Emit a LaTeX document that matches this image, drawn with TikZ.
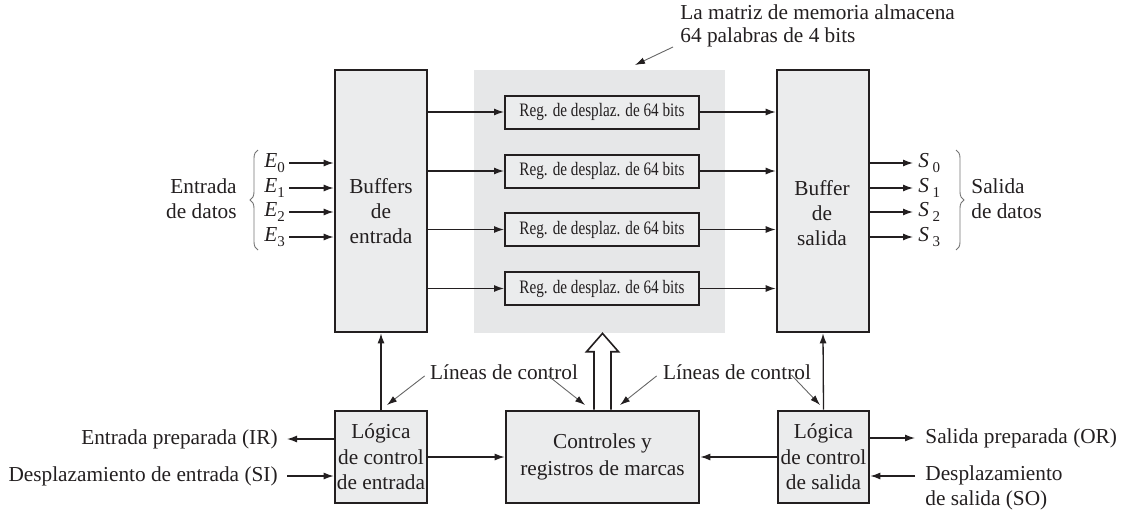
\documentclass[tikz,border=0pt]{standalone}
\usepackage{fontspec}
\setmainfont{Liberation Serif}
\newfontfamily\regfont[FakeStretch=0.8]{Liberation Serif}
\usetikzlibrary{arrows.meta,decorations.pathreplacing,calc}
\definecolor{boxfill}{HTML}{EBECED}
\definecolor{memfill}{HTML}{E6E7E8}
\definecolor{ink}{HTML}{231F20}
\newcommand\lowidx[1]{\raisebox{-0.45ex}{\fontsize{7.5}{8}\selectfont #1}}
\begin{document}
\begin{tikzpicture}[x=0.5pt,y=-0.5pt,
  every node/.style={font=\fontsize{10.65}{12.5}\selectfont, text=ink},
  box/.style={draw=ink, line width=1.3pt, fill=boxfill, inner sep=0pt, align=center},
  reg/.style={draw=ink, line width=1pt, fill=boxfill, minimum width=97pt, minimum height=16.5pt, inner sep=0pt,
     font=\regfont\fontsize{9.5}{10}\selectfont},
  lbl/.style={inner sep=0pt},
  arr/.style={draw=ink, line width=0.65pt, -{Latex[length=5pt,width=3.5pt]}},
  ptr/.style={draw=black!60, line width=0.45pt, -{Latex[length=5pt,width=3.3pt,color=ink]}},
  brc/.style={draw=black!55, line width=0.45pt, decorate, decoration={brace, amplitude=4pt}},
  hollow/.style={draw=ink, line width=0.8pt, fill=white}
]
\useasboundingbox (0,0) rectangle (1124,515);

% memory array region
\node[fill=memfill, minimum width=125.5pt, minimum height=131.5pt, inner sep=0pt] (mem) at (599.5,201.5) {};

% main boxes
\node[box, minimum width=46pt, minimum height=131pt] (bin) at (381,201) {};
\node[lbl, align=center] (bintxt) at (381,211) {Buffers\\de\\entrada};
\node[box, minimum width=46pt, minimum height=131pt] (bout) at (823,201) {};
\node[lbl, align=center] (bouttxt) at (822,213) {Buffer\\de\\salida};

% shift registers
\node[reg] (r1) at (602,112) {Reg. de desplaz. de 64 bits};
\node[reg] (r2) at (602,171) {Reg. de desplaz. de 64 bits};
\node[reg] (r3) at (602,229.5) {Reg. de desplaz. de 64 bits};
\node[reg] (r4) at (602,288.5) {Reg. de desplaz. de 64 bits};

\foreach \r in {r1,r2,r3,r4}{
  \draw[arr] (bin.east |- \r.west) -- (\r.west);
  \draw[arr] (\r.east) -- (bout.west |- \r.east);
}

% bottom boxes
\node[box, minimum width=46pt, minimum height=46pt, font=\fontsize{10.65}{12.7}\selectfont] (lin) at (381,457) {L\'ogica\\de control\\de entrada};
\node[box, minimum width=96.5pt, minimum height=46pt, font=\fontsize{10.65}{13.5}\selectfont] (ctrl) at (602.5,457) {Controles y\\registros de marcas};
\node[box, minimum width=45.5pt, minimum height=46pt, font=\fontsize{10.65}{12.7}\selectfont] (lout) at (823.5,457) {L\'ogica\\de control\\de salida};

\draw[arr] (lin.north) -- (bin.south);
\draw[arr] (lout.north) -- (bout.south);
\draw[arr] (lin.east) -- (ctrl.west);
\draw[arr] (lout.west) -- (ctrl.east);

% hollow arrow
\draw[hollow] ($(ctrl.north)+(-8.5,0)$) -- ($(ctrl.north)+(-8.5,-58)$) -- ($(ctrl.north)+(-16,-58)$)
  -- (ctrl.north |- mem.south) -- ($(ctrl.north)+(16,-58)$) -- ($(ctrl.north)+(8.5,-58)$) -- ($(ctrl.north)+(8.5,0)$);

% inputs
\node[lbl, anchor=west] (e0) at (264,163) {\textit{E}\lowidx{0}};
\node[lbl, anchor=west] (e1) at (264,188) {\textit{E}\lowidx{1}};
\node[lbl, anchor=west] (e2) at (264,212) {\textit{E}\lowidx{2}};
\node[lbl, anchor=west] (e3) at (264,237) {\textit{E}\lowidx{3}};
\foreach \e in {e0,e1,e2,e3}{
  \draw[arr] ([xshift=2pt]\e.east) -- (bin.west |- \e.east);
}
\draw[brc] (258,250) -- (258,150);
\node[lbl, anchor=east, align=right] (din) at (237,199) {Entrada\\de datos};

% outputs
\node[lbl, anchor=west] (s0) at (918,163) {\textit{S}\,\lowidx{0}};
\node[lbl, anchor=west] (s1) at (918,188) {\textit{S}\,\lowidx{1}};
\node[lbl, anchor=west] (s2) at (918,212) {\textit{S}\,\lowidx{2}};
\node[lbl, anchor=west] (s3) at (918,237) {\textit{S}\,\lowidx{3}};
\foreach \s in {s0,s1,s2,s3}{
  \draw[arr] (bout.east |- \s.west) -- ([xshift=-2.5pt]\s.west);
}
\draw[brc] (956,150) -- (956,250);
\node[lbl, anchor=west, align=left] (dout) at (971,199) {Salida\\de datos};

% top annotation
\node[lbl, anchor=west, align=left, font=\fontsize{10.65}{11.3}\selectfont] (ann) at (680,26) {La matriz de memoria almacena\\64 palabras de 4 bits};
\coordinate (annt) at (673,47);
\coordinate (annh) at (635,65);
\draw[ptr] (annt) -- (annh);

% control line labels
\node[lbl] (lcl) at (504,372) {L\'ineas de control};
\node[lbl] (rcl) at (737,372) {L\'ineas de control};
\coordinate (p1) at (387,405);
\coordinate (p2) at (585,405);
\coordinate (p3) at (620,405);
\coordinate (p4) at (820,405);
\draw[ptr] ($(lcl.south west)+(-5,-4)$) -- (p1);
\draw[ptr] ($(lcl.south east)+(-30,-4)$) -- (p2);
\draw[ptr] ($(rcl.south west)+(-6,-4)$) -- (p3);
\draw[ptr] ($(rcl.south east)+(-20,-5)$) -- (p4);

% bottom side signals
\node[lbl, anchor=east] (ir) at (278,439) {Entrada preparada (IR)};
\node[lbl, anchor=east] (si) at (278,476) {Desplazamiento de entrada (SI)};
\draw[arr] (lin.west |- ir.east) -- ([xshift=4.5pt]ir.east);
\draw[arr] ([xshift=4.5pt]si.east) -- (lin.west |- si.east);

\node[lbl, anchor=west] (or) at (925,438) {Salida preparada (OR)};
\node[lbl, anchor=north west, align=left] (so) at (925,465) {Desplazamiento\\de salida (SO)};
\coordinate (soa) at (915,476);
\draw[arr] (lout.east |- or.west) -- ([xshift=-5pt]or.west);
\draw[arr] (soa) -- (lout.east |- soa);
\end{tikzpicture}
\end{document}
